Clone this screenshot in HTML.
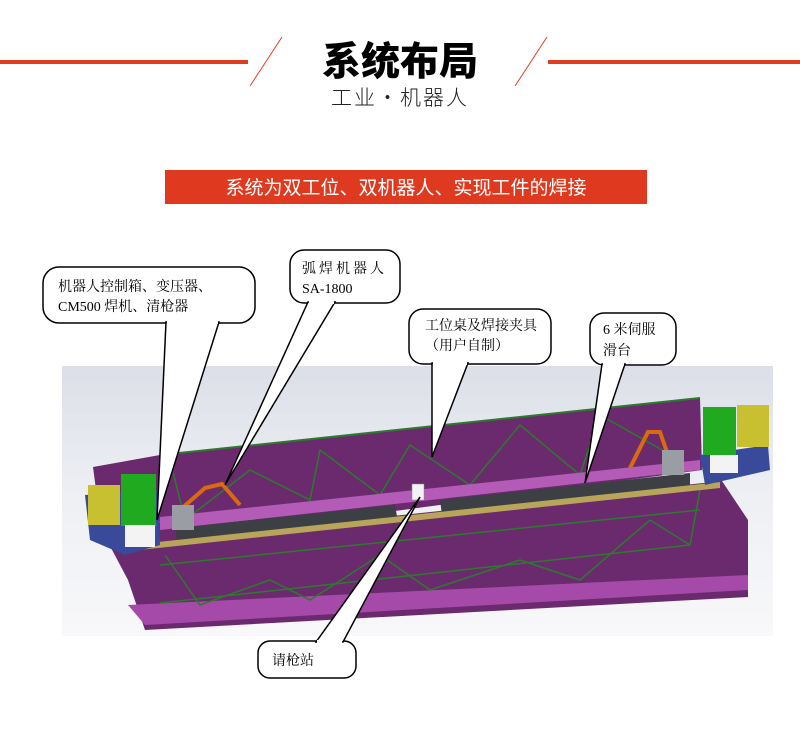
<!DOCTYPE html>
<html><head><meta charset="utf-8"><style>
html,body{margin:0;padding:0;background:#fff;}
body{width:800px;height:730px;position:relative;overflow:hidden;font-family:"Liberation Serif","Noto Serif CJK SC",serif;}
</style></head><body>
<svg width="800" height="730" viewBox="0 0 800 730" xmlns="http://www.w3.org/2000/svg" style="position:absolute;left:0;top:0">
<defs>
<linearGradient id="bg" x1="0" y1="0" x2="0" y2="1">
<stop offset="0" stop-color="#dcdfe8"/><stop offset="0.5" stop-color="#eef0f4"/><stop offset="1" stop-color="#f8f8fa"/>
</linearGradient>
</defs>
<!-- header -->
<rect x="0" y="60" width="248" height="4" fill="#e03c1f"/>
<rect x="548" y="60" width="252" height="4" fill="#e03c1f"/>
<line x1="250" y1="86" x2="282" y2="37" stroke="#e03c1f" stroke-width="1"/>
<line x1="515" y1="86" x2="547" y2="37" stroke="#e03c1f" stroke-width="1"/>
<text x="400" y="75" text-anchor="middle" font-family="'Noto Sans CJK SC',sans-serif" font-weight="900" font-size="39" fill="#000">系统布局</text>
<text x="400" y="105" text-anchor="middle" font-family="'Noto Sans CJK SC',sans-serif" font-weight="300" font-size="21" fill="#222" letter-spacing="2">工业·机器人</text>
<rect x="165" y="170" width="482" height="34" fill="#df3a1f"/>
<text x="406" y="194" text-anchor="middle" font-family="'Noto Sans CJK SC',sans-serif" font-size="19" fill="#fff">系统为双工位、双机器人、实现工件的焊接</text>
<!-- image -->
<rect x="62" y="366" width="711" height="270" fill="url(#bg)"/>
<!-- lower plate -->
<polygon points="110,546 722,481 748,520 748,597 145,630 128,580" fill="#6b2a6e"/>
<polygon points="128,605 748,575 748,590 145,625" fill="#a54aa8"/>
<!-- upper plate -->
<polygon points="93,467 160,455 700,398 702,470 140,545 100,520" fill="#6b2a6e"/>
<polyline points="160,455 700,398" stroke="#2c7a2c" stroke-width="2" fill="none"/>
<polyline points="150,523 700,463" stroke="#2c7a2c" stroke-width="2" fill="none"/>
<polyline points="170,460 185,520 250,470 310,500 320,450 380,495 410,445 470,485 520,425 580,475 600,415 680,460" stroke="#2c7a2c" stroke-width="1.5" fill="none"/>
<polyline points="165,555 200,605 270,580 310,600 380,555 430,590 520,560 580,580 650,520 690,545 700,490" stroke="#2c7a2c" stroke-width="1.5" fill="none"/>
<polyline points="160,565 700,510" stroke="#2c7a2c" stroke-width="1.5" fill="none"/>
<polyline points="160,603 690,545" stroke="#2c7a2c" stroke-width="1.5" fill="none"/>
<!-- pink rail -->
<polygon points="160,517 700,460 700,470 160,530" fill="#b45bb8"/>
<!-- dark beams -->
<polygon points="175,528 395,505 398,522 178,545" fill="#3c3f44"/>
<polygon points="440,500 690,473 690,488 442,515" fill="#3c3f44"/>
<polygon points="130,545 720,482 720,488 130,551" fill="#b8a55a"/>
<!-- left cabinets -->
<polygon points="85,495 90,540 125,555 160,545 158,490" fill="#3a4a9a"/>
<rect x="88" y="485" width="32" height="40" fill="#c8c030"/>
<rect x="121" y="474" width="35" height="52" fill="#1faa1f"/>
<rect x="125" y="525" width="30" height="22" fill="#f3f3f3"/>
<!-- right cabinets -->
<polygon points="700,455 705,485 770,470 768,445" fill="#3a4a9a"/>
<rect x="703" y="407" width="33" height="48" fill="#1faa1f"/>
<rect x="737" y="405" width="32" height="42" fill="#c8c030"/>
<rect x="710" y="455" width="28" height="18" fill="#f3f3f3"/>
<!-- robots -->
<polyline points="180,510 205,488 222,484 240,505" stroke="#d86a10" stroke-width="4" fill="none"/>
<rect x="172" y="505" width="22" height="25" fill="#9a9ea4"/>
<polyline points="630,468 648,432 660,432 668,455" stroke="#d86a10" stroke-width="4" fill="none"/>
<rect x="662" y="450" width="22" height="25" fill="#9a9ea4"/>
<rect x="412" y="484" width="12" height="16" fill="#f2f2f2" stroke="#888" stroke-width="0.5"/>
<!-- callouts -->
<g fill="#fff" stroke="#000" stroke-width="1.5">
<rect x="43" y="267" width="212" height="56" rx="16"/>
<polygon points="166,322 219,322 157,520" />
<rect x="290" y="250" width="110" height="53" rx="14"/>
<polygon points="308,302 335,302 225,485"/>
<rect x="409" y="309" width="142" height="55" rx="14"/>
<polygon points="432,363 468,363 432,457"/>
<rect x="590" y="313" width="86" height="52" rx="14"/>
<polygon points="602,364 625,364 585,483"/>
<rect x="258" y="641" width="98" height="37" rx="12"/>
<polygon points="316,642 343,642 420,497"/>
</g>
<g fill="#fff" stroke="none">
<rect x="167" y="318" width="51" height="6"/>
<rect x="309" y="298" width="25" height="6"/>
<rect x="433" y="359" width="34" height="6"/>
<rect x="603" y="360" width="21" height="6"/>
<rect x="317" y="640" width="25" height="4"/>
</g>
<g font-size="14" fill="#000">
<text x="58" y="291">机器人控制箱、变压器、</text>
<text x="58" y="311">CM500 焊机、清枪器</text>
<text x="302" y="273" letter-spacing="3">弧焊机器人</text>
<text x="302" y="293">SA-1800</text>
<text x="425" y="330">工位桌及焊接夹具</text>
<text x="425" y="350">（用户自制）</text>
<text x="603" y="334">6  米伺服</text>
<text x="603" y="355">滑台</text>
<text x="272" y="665">请枪站</text>
</g>
</svg>
</body></html>
